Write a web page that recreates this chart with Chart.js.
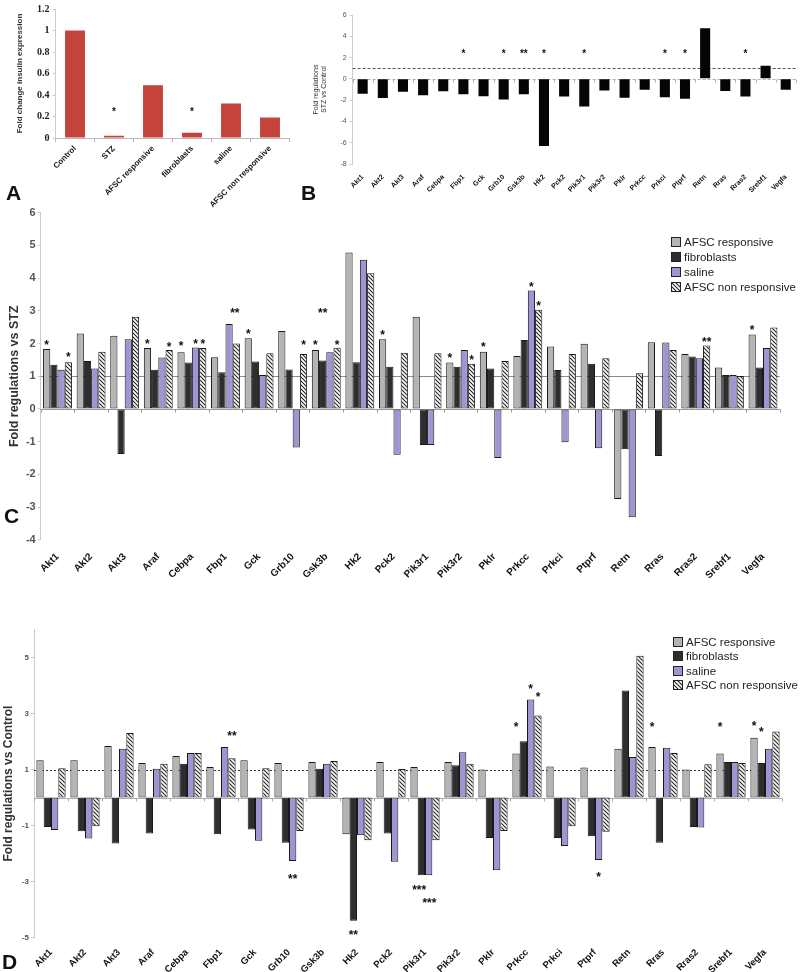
<!DOCTYPE html>
<html><head><meta charset="utf-8">
<script src="https://cdn.jsdelivr.net/npm/chart.js@4.4.1/dist/chart.umd.min.js"></script>
<style>
body{margin:0;background:#fff;width:800px;height:972px;position:relative;overflow:hidden;font-family:"Liberation Sans",Arial,sans-serif}
canvas{position:absolute}
.letter{position:absolute;font:bold 21px/1 "Liberation Sans",Arial,sans-serif;color:#111}
.legend{position:absolute;font:11.5px "Liberation Sans",Arial,sans-serif;color:#222}
.legend .row{white-space:nowrap;display:flex;align-items:center}
.sw{display:inline-block;width:8px;height:8px;border:1px solid #222;margin-right:3px}
</style></head><body>
<canvas id="cA" width="300" height="215" style="left:0;top:0"></canvas>
<canvas id="cB" width="510" height="200" style="left:290px;top:0"></canvas>
<canvas id="cC" width="800" height="380" style="left:0;top:200px"></canvas>
<canvas id="cD" width="800" height="382" style="left:0;top:590px"></canvas>
<div class="letter" style="left:6px;top:182px">A</div>
<div class="letter" style="left:301px;top:182px">B</div>
<div class="letter" style="left:4px;top:505px">C</div>
<div class="letter" style="left:2px;top:951px">D</div>
<div class="legend" id="legC" style="left:671px;top:234px"></div>
<div class="legend" id="legD" style="left:673px;top:635px"></div>
<script>
// ---------- DATA ----------
const insulinGroups = ["Control","STZ","AFSC responsive","fibroblasts","saline","AFSC non responsive"];
const insulinFold = [1.0,0.02,0.49,0.05,0.32,0.19];
const insulinStars = [[1,0,0.26,"*"],[3,0,0.26,"*"]];

const genes = ["Akt1","Akt2","Akt3","Araf","Cebpa","Fbp1","Gck","Grb10","Gsk3b","Hk2","Pck2","Pik3r1","Pik3r2","Pklr","Prkcc","Prkci","Ptprf","Retn","Rras","Rras2","Srebf1","Vegfa"];

const stzVsControl = [-1.41,-1.79,-1.22,-1.53,-1.16,-1.44,-1.63,-1.94,-1.44,-6.3,-1.66,-2.6,-1.1,-1.78,-1.03,-1.72,-1.88,4.76,-1.13,-1.66,1.22,-1.03];
const stzStars = [[5,0,2.5,"*"],[7,0,2.5,"*"],[8,0,2.5,"**"],[9,0,2.5,"*"],[11,0,2.5,"*"],[15,0,2.5,"*"],[16,0,2.5,"*"],[19,0,2.5,"*"]];

const seriesNames = ["AFSC responsive","fibroblasts","saline","AFSC non responsive"];

const vsStzAfscResp = [1.83,2.31,2.24,1.86,1.73,1.58,2.16,2.38,1.80,4.78,2.13,2.82,1.42,1.75,1.62,1.91,1.99,-2.75,2.04,1.68,1.27,2.28];
const vsStzFibro    = [1.35,1.47,-1.38,1.20,1.42,1.12,1.45,1.21,1.48,1.43,1.29,-1.10,1.29,1.24,2.11,1.19,1.38,-1.23,-1.44,1.60,1.04,1.27];
const vsStzSaline   = [1.20,1.24,2.13,1.57,1.88,2.60,1.04,-1.18,1.73,4.56,-1.40,-1.10,1.80,-1.50,3.62,-1.02,-1.20,-3.31,2.03,1.55,1.04,1.86];
const vsStzNonResp  = [1.43,1.75,2.82,1.80,1.86,2.00,1.70,1.68,1.87,4.15,1.72,1.70,1.38,1.47,3.03,1.68,1.55,1.09,1.80,1.94,1.01,2.49];
const vsStzStars = [[0,0,2.01,"*"],[0,3,1.65,"*"],[3,0,2.06,"*"],[3,3,1.96,"*"],[4,0,1.98,"*"],[4,2,2.06,"*"],[4,3,2.04,"*"],
  [5,2.8,2.98,"**"],[6,0,2.35,"*"],[7,3,2.03,"*"],[8,0,2.03,"*"],[8,3,2.03,"*"],[8,1,2.98,"**"],[10,0,2.33,"*"],
  [12,0,1.62,"*"],[12,3,1.57,"*"],[13,0,1.94,"*"],[14,2,3.79,"*"],[14,3,3.2,"*"],[19,3,2.11,"**"],[21,0,2.47,"*"]];

const vsCtrlAfscResp = [1.33,1.33,1.84,1.23,1.48,1.09,1.33,1.23,1.27,-1.31,1.27,1.09,1.27,1.00,1.57,1.11,1.07,1.74,1.80,1.00,1.57,2.13];
const vsCtrlFibro    = [-1.05,-1.20,-1.64,-1.28,1.21,-1.31,-1.14,-1.61,1.03,-4.39,-1.28,-2.77,1.15,-1.44,2.01,-1.44,-1.38,3.82,-1.61,-1.05,1.27,1.23];
const vsCtrlSaline   = [-1.16,-1.46,1.74,1.03,1.59,1.80,-1.54,-2.26,1.21,-1.34,-2.29,-2.77,1.62,-2.59,3.50,-1.73,-2.23,1.45,1.78,-1.07,1.27,1.74];
const vsCtrlNonResp  = [1.05,-1.02,2.30,1.21,1.59,1.40,1.05,-1.19,1.30,-1.52,1.02,-1.52,1.21,-1.19,2.93,-1.02,-1.22,5.06,1.59,1.19,1.23,2.36];
const vsCtrlStars = [[5,3,2.28,"**"],[7,2,-2.85,"**"],[9,1,-4.82,"**"],[11,0.7,-3.24,"***"],[11,2.1,-3.69,"***"],
  [14,0,2.6,"*"],[14,2,3.94,"*"],[14,3,3.67,"*"],[16,2,-2.77,"*"],[18,0,2.57,"*"],[20,0,2.57,"*"],[21,0,2.63,"*"],[21,1,2.4,"*"]];
const vsCtrlTicks = [-5,-3,-1,1,3,5];

// ---------- STYLE ----------
const FONT = '"Liberation Sans", Arial, sans-serif';
function hatchCanvas(){
  const c=document.createElement('canvas'); c.width=c.height=4;
  const g=c.getContext('2d'); g.fillStyle='#fff'; g.fillRect(0,0,4,4);
  g.strokeStyle='#222'; g.lineWidth=1.1; g.beginPath();
  g.moveTo(0,0); g.lineTo(4,4); g.moveTo(-1,3); g.lineTo(1,5); g.moveTo(3,-1); g.lineTo(5,1); g.stroke();
  return c;
}
const hc = hatchCanvas();
const hatch = document.createElement('canvas').getContext('2d').createPattern(hc,'repeat');
const seriesFill = ['#b4b4b4','#2e2e2e','#9c97d2',hatch];
const seriesSwatch = ['#b4b4b4','#2e2e2e','#9c97d2','url('+hc.toDataURL()+')'];

Chart.defaults.font.family = FONT;
Chart.defaults.color = '#333';

const overlay = {
  id:'overlay',
  beforeDatasetsDraw(chart){
    const o = chart.options.plugins.overlay || {};
    const {ctx, chartArea:a, scales:{x,y}} = chart;
    (o.lines||[]).forEach(l=>{
      const py = Math.round(y.getPixelForValue(l.value))+0.5;
      ctx.save(); ctx.strokeStyle=l.color; ctx.lineWidth=l.width||1; ctx.setLineDash(l.dash||[]);
      ctx.beginPath(); ctx.moveTo(a.left,py); ctx.lineTo(a.right,py); ctx.stroke();
      if(l.ticks){
        ctx.setLineDash([]); ctx.beginPath();
        for(let i=0;i<=chart.data.labels.length;i++){
          const px=Math.round(x.getPixelForValue(i-0.5))+0.5;
          ctx.moveTo(px,py); ctx.lineTo(px,py+l.ticks);
        }
        ctx.stroke();
      }
      ctx.restore();
    });
  },
  afterDatasetsDraw(chart){
    const o = chart.options.plugins.overlay || {};
    const {ctx, scales:{y}} = chart;
    const fs = o.starSize||12;
    ctx.save(); ctx.fillStyle='#111'; ctx.font='bold '+fs+'px '+FONT;
    ctx.textAlign='center'; ctx.textBaseline='middle';
    (o.stars||[]).forEach(([cat,pos,val,txt])=>{
      const i0=Math.floor(pos), i1=Math.ceil(pos), f=pos-i0;
      const x0=chart.getDatasetMeta(i0).data[cat].x, x1=chart.getDatasetMeta(i1).data[cat].x;
      ctx.fillText(txt, x0+(x1-x0)*f, y.getPixelForValue(val)+fs*0.22);
    });
    ctx.restore();
  }
};
Chart.register(overlay);

function base(pad, yW, xH){
  return {responsive:false, animation:false, devicePixelRatio:1,
    layout:{padding:pad},
    plugins:{legend:{display:false}, tooltip:{enabled:false}},
    _yFit: s=>{s.width=yW;}, _xFit: s=>{s.height=xH;}};
}

// ---------- PANEL A ----------
(function(){
  const b = base({left:0,right:10.5,top:5,bottom:0},55.5,77);
  new Chart(document.getElementById('cA'),{
    type:'bar',
    data:{labels:insulinGroups, datasets:[{data:insulinFold, backgroundColor:'#c4433a', barPercentage:0.51, categoryPercentage:1}]},
    options:Object.assign(b,{
      plugins:{legend:{display:false},tooltip:{enabled:false},overlay:{stars:insulinStars,starSize:10}},
      scales:{
        x:{afterFit:b._xFit, grid:{display:true,drawOnChartArea:false,tickLength:4,color:'#bbb'}, border:{color:'#bbb'},
           ticks:{minRotation:45,maxRotation:45,autoSkip:false,padding:2,color:'#111',font:{size:8,weight:'bold'}}},
        y:{afterFit:b._yFit, min:0,max:1.2, grid:{display:true,drawOnChartArea:false,tickLength:3,color:'#ccc'}, border:{color:'#ccc'},
           ticks:{stepSize:0.2,padding:3,color:'#222',font:{size:10,weight:'bold',family:'"Liberation Serif", serif'},callback:v=>+v.toFixed(1)},
           title:{display:true,text:'Fold change insulin expression',color:'#333',font:{size:8,weight:'bold'},padding:{top:15.2,bottom:0}}}
      }
    })
  });
})();

// ---------- PANEL B ----------
(function(){
  const b = base({left:0,right:4.2,top:15,bottom:0},62.6,36);
  new Chart(document.getElementById('cB'),{
    type:'bar',
    data:{labels:genes, datasets:[{data:stzVsControl, backgroundColor:'#050505', barPercentage:0.5, categoryPercentage:1}]},
    options:Object.assign(b,{
      plugins:{legend:{display:false},tooltip:{enabled:false},overlay:{starSize:10,stars:stzStars,
        lines:[{value:0,color:'#b0b0b0',dash:[3,2],ticks:3},{value:1,color:'#555',dash:[3,2]}]}},
      scales:{
        x:{afterFit:b._xFit, grid:{display:false}, border:{display:false},
           ticks:{minRotation:45,maxRotation:45,autoSkip:false,padding:1,color:'#111',font:{size:7,weight:'bold'}}},
        y:{afterFit:b._yFit, min:-8,max:6, grid:{display:true,drawOnChartArea:false,tickLength:3,color:'#ccc'}, border:{color:'#ccc'},
           ticks:{stepSize:2,padding:3,color:'#555',font:{size:7}},
           title:{display:true,text:['Fold regulations','STZ vs Control'],color:'#333',font:{size:7,lineHeight:1.15},padding:{top:22,bottom:0}}}
      }
    })
  });
})();

// ---------- grouped panels ----------
function grouped(id, pad, yW, xH, series, yOpts, ov, titleText, titleFont, titlePad, labelSize, labelPad){
  const b = base(pad,yW,xH);
  const ds = series.map((d,i)=>({label:seriesNames[i], data:d, backgroundColor:seriesFill[i], borderColor:'#1a1a1a', borderWidth:1,
    borderSkipped:false, barPercentage:1, categoryPercentage:0.86}));
  return new Chart(document.getElementById(id),{
    type:'bar', data:{labels:genes, datasets:ds},
    options:Object.assign(b,{
      plugins:{legend:{display:false},tooltip:{enabled:false},overlay:ov},
      scales:{
        x:{afterFit:b._xFit, grid:{display:false}, border:{display:false},
           ticks:{minRotation:45,maxRotation:45,autoSkip:false,padding:labelPad,color:'#111',font:{size:labelSize,weight:'bold'}}},
        y:Object.assign({afterFit:b._yFit, grid:{display:true,drawOnChartArea:false,tickLength:3,color:'#ccc'}, border:{color:'#ccc'},
           title:{display:true,text:titleText,color:'#333',font:titleFont,padding:{top:titlePad,bottom:0}}}, yOpts)
      }
    })
  });
}

grouped('cC',{left:0,right:20.2,top:12.7,bottom:0},40.7,40.2,
  [vsStzAfscResp,vsStzFibro,vsStzSaline,vsStzNonResp],
  {min:-4,max:6,ticks:{stepSize:1,padding:2,color:'#555',font:{size:11,weight:'bold'}}},
  {starSize:12,stars:vsStzStars,lines:[{value:0,color:'#999',ticks:3},{value:1,color:'#8a8a8a'}]},
  'Fold regulations vs STZ',{size:12.5,weight:'bold'},7.5,10,3);

grouped('cD',{left:0,right:18,top:39.3,bottom:0},34,34.2,
  [vsCtrlAfscResp,vsCtrlFibro,vsCtrlSaline,vsCtrlNonResp],
  {min:-5,max:6,afterBuildTicks:s=>{s.ticks=vsCtrlTicks.map(v=>({value:v}));},
   ticks:{padding:2,color:'#555',font:{size:8,weight:'bold'}}},
  {starSize:12,stars:vsCtrlStars,lines:[{value:0,color:'#aaa',ticks:3},{value:1,color:'#333',dash:[2,2]}]},
  'Fold regulations vs Control',{size:12,weight:'bold'},1,9.5,1);

// ---------- legends ----------
function legend(id,rowH){
  const el=document.getElementById(id);
  seriesNames.forEach((n,i)=>{
    const r=document.createElement('div'); r.className='row'; r.style.height=rowH+'px';
    const s=document.createElement('span'); s.className='sw'; s.style.background=seriesSwatch[i];
    r.appendChild(s); r.appendChild(document.createTextNode(n)); el.appendChild(r);
  });
}
legend('legC',15); legend('legD',14.3);
</script>
</body></html>
